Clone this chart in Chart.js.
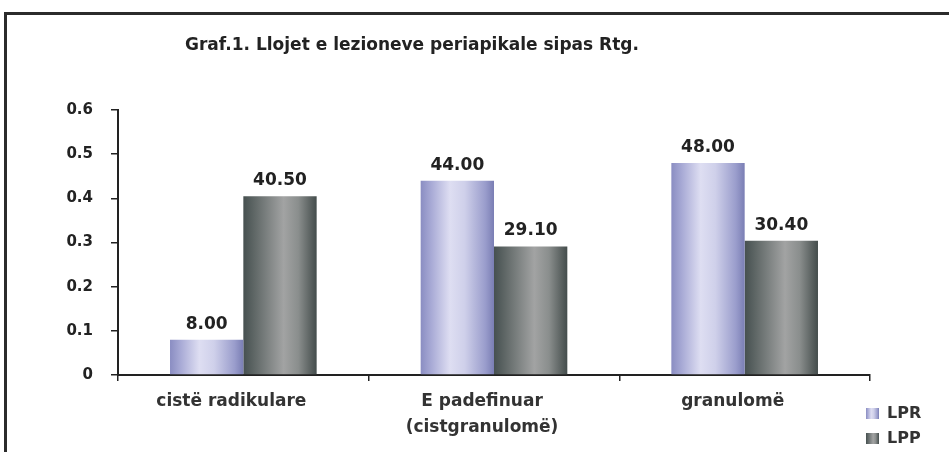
<!DOCTYPE html>
<html>
<head>
<meta charset="utf-8">
<script src="https://cdn.jsdelivr.net/npm/chart.js@4.4.0/dist/chart.umd.min.js"></script>
<style>
html, body { margin: 0; padding: 0; background: #fff; }
#wrap { position: relative; width: 949px; height: 452px; overflow: hidden; }
#frame { position: absolute; left: 4px; top: 12px; width: 980px; height: 480px;
         border-top: 3px solid #2b2b2b; border-left: 3px solid #2b2b2b; }
canvas { position: absolute; left: 0; top: 0; }
</style>
</head>
<body>
<div id="wrap">
  <div id="frame"></div>
  <canvas id="my_Canvas" width="949" height="452"></canvas>
</div>
<script>
var chartTitle = 'Graf.1. Llojet e lezioneve periapikale sipas Rtg.';
var categories = ['cistë radikulare', ['E padefinuar', '(cistgranulomë)'], 'granulomë'];
var seriesNames = ['LPR', 'LPP'];
var lprValues = [8.00, 44.00, 48.00];
var lppValues = [40.50, 29.10, 30.40];
var yTickLabels = ['0', '0.1', '0.2', '0.3', '0.4', '0.5', '0.6'];

var FONT = "'DejaVu Sans', 'Liberation Sans', Arial, sans-serif";

// colour stops across the width of a bar, gives the rounded look
var shades = [
    [[0, '#8a8dc2'], [0.15, '#a9abd6'], [0.4, '#dedef2'], [0.6, '#cfd0ea'], [0.88, '#9a9dcc'], [1, '#7a7eb4']],
    [[0, '#465050'], [0.15, '#5f6766'], [0.55, '#a2a3a3'], [0.75, '#8a8e8d'], [0.92, '#5a6160'], [1, '#444d4c']]
];

function shadeFill(ctx, i, left, right) {
    var g = ctx.createLinearGradient(left, 0, right, 0);
    shades[i].forEach(function(s){ g.addColorStop(s[0], s[1]); });
    return g;
}

/*
    plugin: cylinder shading, value labels, title and legend
*/
var decorations = {
    id: 'decorations',
    beforeDatasetsDraw: function(chart){
        var ctx = chart.ctx;
        chart.data.datasets.forEach(function(ds, i){
            chart.getDatasetMeta(i).data.forEach(function(el){
                var p = el.getProps(['x', 'width']);
                var o = Object.assign({}, el.options);
                o.backgroundColor = shadeFill(ctx, i, p.x - p.width / 2, p.x + p.width / 2);
                el.options = o;
            });
        });
    },
    afterDatasetsDraw: function(chart){
        var ctx = chart.ctx;
        ctx.save();
        ctx.font = 'bold 17px ' + FONT;
        ctx.fillStyle = '#222';
        ctx.textAlign = 'center';
        ctx.textBaseline = 'alphabetic';
        chart.data.datasets.forEach(function(ds, i){
            chart.getDatasetMeta(i).data.forEach(function(el, j){
                ctx.fillText(ds.data[j].toFixed(2), el.x, el.y - 11);
            });
        });
        ctx.restore();
    },
    afterDraw: function(chart){
        var ctx = chart.ctx;
        ctx.save();
        ctx.fillStyle = '#222';
        ctx.font = 'bold 17px ' + FONT;
        ctx.textAlign = 'left';
        ctx.textBaseline = 'middle';
        ctx.fillText(chartTitle, 185, 46);

        // legend, bottom right
        ctx.font = 'bold 16px ' + FONT;
        seriesNames.forEach(function(name, i){
            var y = 408 + i * 25;
            ctx.fillStyle = shadeFill(ctx, i, 866, 879);
            ctx.fillRect(866, y, 13, 11);
            ctx.fillStyle = '#333';
            ctx.fillText(name, 887, y + 6);
        });
        ctx.restore();
    }
};

var canvas = document.getElementById('my_Canvas').getContext('2d');
var myChart = new Chart(canvas, {
    type: 'bar',
    data: {
        labels: categories,
        datasets: [{
            label: seriesNames[0],
            data: lprValues,
            backgroundColor: '#c4c6e6'
        }, {
            label: seriesNames[1],
            data: lppValues,
            backgroundColor: '#6f7675'
        }]
    },
    options: {
        responsive: false,
        animation: false,
        layout: { padding: { top: 110, right: 79, bottom: 0, left: 0 } },
        datasets: { bar: { barPercentage: 1, categoryPercentage: 0.585 } },
        plugins: {
            legend: { display: false },
            tooltip: { enabled: false }
        },
        scales: {
            x: {
                grid: { drawOnChartArea: false, tickLength: 6, color: '#222', lineWidth: 1.5 },
                border: { color: '#222', width: 2 },
                ticks: {
                    color: '#333',
                    font: { family: FONT, size: 17, weight: 'bold', lineHeight: 1.53 },
                    padding: 8,
                    labelOffset: -12,
                    maxRotation: 0,
                    autoSkip: false
                },
                afterFit: function(s){ s.height = 77; }
            },
            y: {
                min: 0,
                max: 60,
                grid: { drawOnChartArea: false, tickLength: 7, color: '#222', lineWidth: 1.5 },
                border: { color: '#222', width: 2 },
                ticks: {
                    stepSize: 10,
                    color: '#222',
                    font: { family: FONT, size: 15, weight: 'bold' },
                    padding: 18,
                    callback: function(v, i){ return yTickLabels[i]; }
                },
                afterFit: function(s){ s.width = 118; }
            }
        }
    },
    plugins: [decorations]
});
</script>
</body>
</html>
